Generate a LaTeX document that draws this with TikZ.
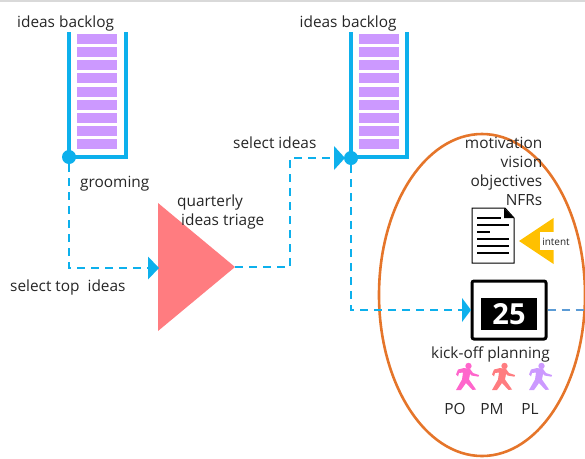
\documentclass[tikz,border=0pt]{standalone}
\usepackage{fontspec}
\setmainfont{Open Sans}
\definecolor{cblue}{HTML}{0DB0EC}
\definecolor{cviolet}{HTML}{CC99FF}
\definecolor{cpink}{HTML}{FF66CC}
\definecolor{csalmon}{HTML}{FF7C80}
\definecolor{corange}{HTML}{E5752A}
\definecolor{cyellow}{HTML}{FFC000}
\definecolor{cdash}{HTML}{5B9BD5}
\tikzset{
  lbl/.style={inner sep=0pt,font=\fontsize{15.4}{17}\selectfont,text=black!85},
  bar/.style={draw=cblue,line width=4pt},
  flow/.style={draw=cblue,line width=2pt,dash pattern=on 8pt off 6pt},
  tip/.style={fill=cblue,draw=none},
  stripe/.style={fill=cviolet,draw=none},
  docline/.style={draw=black,line width=1.8pt},
  walker/.pic={
    \fill[pic actions] (1.5,-10.5) circle (3.2);
    \fill[pic actions] (-11,-2) -- (-9,-7) -- (-3,-8.5) -- (3,-7.5) -- (6,-3.5) -- (12,-1.5) -- (11.5,0.2) -- (4.5,-1) -- (3,-2.5) -- (2,3) -- (9,13) -- (5.5,13.5) -- (-1,6.5) -- (-6,13.5) -- (-11,13.5) -- (-5,3) -- (-4,-4) -- (-8,-3.5) -- (-9,0) -- cycle;
  }
}
\begin{document}
\begin{tikzpicture}[x=1pt,y=-1pt]
\useasboundingbox (0,0) rectangle (585,458);
\fill[black!15] (0,0) rectangle (585,2);

% ellipse
\draw[corange,line width=2.6pt] (482,295) ellipse [x radius=103,y radius=161];

% backlog 1
\foreach \y in {34,47,60,73,87,100,113,126,139}{\fill[stripe] (77,\y) rectangle (117,\y+9.6);}
\coordinate (b1tl) at (69,32);
\coordinate (b1tr) at (126,32);
\coordinate (b1bl) at (69,157);
\draw[bar,line join=miter] (b1tl) -- (b1bl) -- (b1bl -| b1tr) -- (b1tr);
% backlog 2
\foreach \y in {34,47,60,73,87,100,113,126,139}{\fill[stripe] (359,\y) rectangle (399,\y+9.6);}
\coordinate (b2tl) at (351,32);
\coordinate (b2tr) at (407,32);
\coordinate (b2bl) at (351,157);
\draw[bar,line join=miter] (b2tl) -- (b2bl) -- (b2bl -| b2tr) -- (b2tr);

% triage triangle
\fill[csalmon] (158,203) -- (235,267) -- (158,331) -- cycle;
\coordinate (triage) at (235,267);

% junction dots, entry tips
\node[circle,fill=cblue,inner sep=0pt,minimum size=14pt] (dot1) at (69,157) {};
\node[circle,fill=cblue,inner sep=0pt,minimum size=14pt] (dot2) at (351,158) {};
\coordinate (tipA) at (148,268);
\coordinate (tipB) at (334,158);
\coordinate (tipC) at (462,310);

% planning box
\node[draw=black,line width=3pt,rounded corners=2pt,fill=white,minimum width=74pt,minimum height=58pt,inner sep=0pt] (planbox) at (509,310) {};
\node[fill=black,text=white,minimum width=56pt,minimum height=32pt,inner sep=0pt,font=\fontsize{29}{29}\selectfont\bfseries] (num) at (509,314) {25};
\coordinate (offright) at (585,310);

% connectors
\draw[flow] (dot1) -- (69,268) -- (tipA);
\draw[flow] (triage) -- (290,267) -- (290,158) -- (tipB);
\draw[flow] (dot2) -- (351,310) -- (tipC);
\draw[cdash,line width=2pt,dash pattern=on 8pt off 6pt] (planbox.east) -- (offright);

\fill[tip] (tipA) ++(0,-11.5) -- ++(11,11.5) -- ++(-11,11.5) -- cycle;
\fill[tip] (tipB) ++(0,-12) -- ++(11,12) -- ++(-11,12) -- cycle;
\fill[tip] (tipC) ++(0,-12) -- ++(9,12) -- ++(-9,12) -- cycle;

% document
\draw[black,line width=1pt,fill=white] (472,208) -- (505,208) -- (514,218) -- (514,263) -- (472,263) -- cycle;
\fill[black] (504,208) -- (514,218) -- (504,218) -- cycle;
\draw[docline] (477,218) -- (501,218);
\draw[docline] (477,225) -- (509,225);
\draw[docline] (477,232) -- (490,232);
\draw[docline] (477,239) -- (509,239);
\draw[docline] (477,246) -- (509,246);
\draw[docline] (477,253) -- (509,253);

% intent
\fill[cyellow] (519,241) -- (553.5,218) -- (553.5,264) -- cycle;
\fill[white] (540,232) rectangle (553.5,250);
\node[lbl,font=\fontsize{10}{11}\selectfont] (intent) at (556,241.5) {intent};

% people
\path[fill=cpink] (467,376.5) pic {walker};
\path[fill=csalmon] (503,376.5) pic {walker};
\path[fill=cviolet] (540,376.5) pic {walker};

% labels
\node[lbl,anchor=base west] (t1) at (17,27) {ideas backlog};
\node[lbl,anchor=base west] (t2) at (299.5,27) {ideas backlog};
\node[lbl,anchor=base west] (t3) at (80,187) {grooming};
\node[lbl,anchor=base west] (t4) at (177,206) {quarterly};
\node[lbl,anchor=base west] (t5) at (181,225) {ideas triage};
\node[lbl,anchor=base west] (t6) at (10,291) {select top\ \ ideas};
\node[lbl,anchor=base west] (t7) at (233,148) {select ideas};
\node[lbl,anchor=base east] (t8) at (542.5,148) {motivation};
\node[lbl,anchor=base east] (t9) at (542.5,167) {vision};
\node[lbl,anchor=base east] (t10) at (542.5,186) {objectives};
\node[lbl,anchor=base east] (t11) at (542.5,205) {NFRs};
\node[lbl,anchor=base] (t12) at (490.5,358) {kick-off planning};
\node[lbl,anchor=base] (t13) at (455,414) {PO};
\node[lbl,anchor=base] (t14) at (492,414) {PM};
\node[lbl,anchor=base] (t15) at (530,414) {PL};
\end{tikzpicture}
\end{document}
